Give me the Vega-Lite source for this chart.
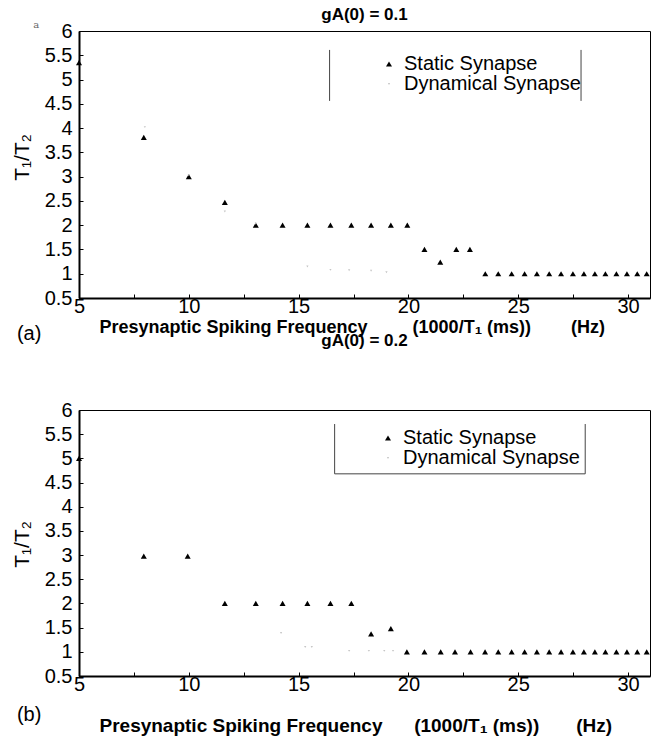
{
  "$schema": "https://vega.github.io/schema/vega-lite/v6.json",
  "padding": {"left": 10, "top": 5, "right": 8, "bottom": 4},
  "spacing": -14,
  "config": {
    "font": "Liberation Sans",
    "view": {"stroke": "black", "strokeWidth": 1},
    "axis": {
      "grid": false,
      "labelFont": "Liberation Sans",
      "labelFontSize": 20,
      "labelColor": "black",
      "labelFlush": false,
      "labelOverlap": false,
      "labelSeparation": 0,
      "titleFont": "Liberation Sans",
      "titleColor": "black",
      "domainColor": "black",
      "domainWidth": 2,
      "tickColor": "black",
      "tickSize": -4
    },
    "axisX": {"labelPadding": 2},
    "axisY": {"labelPadding": 11, "labelOverlap": false},
    "legend": {"labelLimit": 400},
    "title": {"font": "Liberation Sans", "fontSize": 17, "fontWeight": "bold", "color": "black", "anchor": "middle", "frame": "group"}
  },
  "datasets": {
    "a": [
      {"f": 5, "ratio": 5.35, "series": "Static Synapse"},
      {"f": 7.95, "ratio": 3.81, "series": "Static Synapse"},
      {"f": 10, "ratio": 3.0, "series": "Static Synapse"},
      {"f": 11.64, "ratio": 2.47, "series": "Static Synapse"},
      {"f": 13.05, "ratio": 2.0, "series": "Static Synapse"},
      {"f": 14.27, "ratio": 2.0, "series": "Static Synapse"},
      {"f": 15.4, "ratio": 2.0, "series": "Static Synapse"},
      {"f": 16.45, "ratio": 2.0, "series": "Static Synapse"},
      {"f": 17.4, "ratio": 2.0, "series": "Static Synapse"},
      {"f": 18.3, "ratio": 2.0, "series": "Static Synapse"},
      {"f": 19.2, "ratio": 2.0, "series": "Static Synapse"},
      {"f": 19.95, "ratio": 2.0, "series": "Static Synapse"},
      {"f": 20.73, "ratio": 1.5, "series": "Static Synapse"},
      {"f": 21.45, "ratio": 1.24, "series": "Static Synapse"},
      {"f": 22.18, "ratio": 1.5, "series": "Static Synapse"},
      {"f": 22.8, "ratio": 1.5, "series": "Static Synapse"},
      {"f": 23.5, "ratio": 1.0, "series": "Static Synapse"},
      {"f": 24.09, "ratio": 1.0, "series": "Static Synapse"},
      {"f": 24.7, "ratio": 1.0, "series": "Static Synapse"},
      {"f": 25.29, "ratio": 1.0, "series": "Static Synapse"},
      {"f": 25.85, "ratio": 1.0, "series": "Static Synapse"},
      {"f": 26.41, "ratio": 1.0, "series": "Static Synapse"},
      {"f": 26.95, "ratio": 1.0, "series": "Static Synapse"},
      {"f": 27.49, "ratio": 1.0, "series": "Static Synapse"},
      {"f": 27.99, "ratio": 1.0, "series": "Static Synapse"},
      {"f": 28.49, "ratio": 1.0, "series": "Static Synapse"},
      {"f": 28.97, "ratio": 1.0, "series": "Static Synapse"},
      {"f": 29.47, "ratio": 1.0, "series": "Static Synapse"},
      {"f": 29.95, "ratio": 1.0, "series": "Static Synapse"},
      {"f": 30.42, "ratio": 1.0, "series": "Static Synapse"},
      {"f": 30.85, "ratio": 1.0, "series": "Static Synapse"},
      {"f": 8.0, "ratio": 4.02, "series": "Dynamical Synapse"},
      {"f": 10.0, "ratio": 3.03, "series": "Dynamical Synapse"},
      {"f": 11.64, "ratio": 2.28, "series": "Dynamical Synapse"},
      {"f": 13.05, "ratio": 2.03, "series": "Dynamical Synapse"},
      {"f": 15.4, "ratio": 1.15, "series": "Dynamical Synapse"},
      {"f": 16.45, "ratio": 1.08, "series": "Dynamical Synapse"},
      {"f": 17.3, "ratio": 1.07, "series": "Dynamical Synapse"},
      {"f": 18.3, "ratio": 1.06, "series": "Dynamical Synapse"},
      {"f": 19.0, "ratio": 1.03, "series": "Dynamical Synapse"}
    ],
    "b": [
      {"f": 5, "ratio": 5.0, "series": "Static Synapse"},
      {"f": 7.95, "ratio": 2.98, "series": "Static Synapse"},
      {"f": 9.95, "ratio": 2.98, "series": "Static Synapse"},
      {"f": 11.64, "ratio": 2.0, "series": "Static Synapse"},
      {"f": 13.05, "ratio": 2.0, "series": "Static Synapse"},
      {"f": 14.27, "ratio": 2.0, "series": "Static Synapse"},
      {"f": 15.4, "ratio": 2.0, "series": "Static Synapse"},
      {"f": 16.45, "ratio": 2.0, "series": "Static Synapse"},
      {"f": 17.4, "ratio": 2.0, "series": "Static Synapse"},
      {"f": 18.3, "ratio": 1.37, "series": "Static Synapse"},
      {"f": 19.2, "ratio": 1.48, "series": "Static Synapse"},
      {"f": 19.93, "ratio": 1.0, "series": "Static Synapse"},
      {"f": 20.73, "ratio": 1.0, "series": "Static Synapse"},
      {"f": 21.47, "ratio": 1.0, "series": "Static Synapse"},
      {"f": 22.12, "ratio": 1.0, "series": "Static Synapse"},
      {"f": 22.83, "ratio": 1.0, "series": "Static Synapse"},
      {"f": 23.49, "ratio": 1.0, "series": "Static Synapse"},
      {"f": 24.09, "ratio": 1.0, "series": "Static Synapse"},
      {"f": 24.7, "ratio": 1.0, "series": "Static Synapse"},
      {"f": 25.29, "ratio": 1.0, "series": "Static Synapse"},
      {"f": 25.85, "ratio": 1.0, "series": "Static Synapse"},
      {"f": 26.41, "ratio": 1.0, "series": "Static Synapse"},
      {"f": 26.95, "ratio": 1.0, "series": "Static Synapse"},
      {"f": 27.49, "ratio": 1.0, "series": "Static Synapse"},
      {"f": 27.99, "ratio": 1.0, "series": "Static Synapse"},
      {"f": 28.49, "ratio": 1.0, "series": "Static Synapse"},
      {"f": 28.97, "ratio": 1.0, "series": "Static Synapse"},
      {"f": 29.47, "ratio": 1.0, "series": "Static Synapse"},
      {"f": 29.95, "ratio": 1.0, "series": "Static Synapse"},
      {"f": 30.42, "ratio": 1.0, "series": "Static Synapse"},
      {"f": 30.85, "ratio": 1.0, "series": "Static Synapse"},
      {"f": 14.2, "ratio": 1.39, "series": "Dynamical Synapse"},
      {"f": 15.3, "ratio": 1.1, "series": "Dynamical Synapse"},
      {"f": 15.6, "ratio": 1.1, "series": "Dynamical Synapse"},
      {"f": 17.3, "ratio": 1.02, "series": "Dynamical Synapse"},
      {"f": 18.2, "ratio": 1.02, "series": "Dynamical Synapse"},
      {"f": 18.9, "ratio": 1.02, "series": "Dynamical Synapse"},
      {"f": 19.3, "ratio": 1.02, "series": "Dynamical Synapse"}
    ],
    "boxA": [
      {"f": 16.41, "ratio": 5.61, "f2": 16.41, "ratio2": 4.56},
      {"f": 27.86, "ratio": 5.61, "f2": 27.86, "ratio2": 4.56}
    ],
    "boxB": [
      {"f": 16.64, "ratio": 5.71, "f2": 16.64, "ratio2": 4.68},
      {"f": 28.05, "ratio": 5.71, "f2": 28.05, "ratio2": 4.68},
      {"f": 16.64, "ratio": 4.68, "f2": 28.05, "ratio2": 4.68}
    ],
    "tagA": [{"f": 2.73, "ratio": -0.25, "t": "(a)"}],
    "tagB": [{"f": 2.73, "ratio": -0.3, "t": "(b)"}],
    "mini": [{"f": 3.05, "ratio": 6.12, "t": "a"}]
  },
  "vconcat": [
    {
      "width": 571,
      "height": 267,
      "title": {"text": "gA(0) = 0.1", "offset": -4},
      "layer": [
        {
          "data": {"name": "a"},
          "mark": {"type": "point", "filled": true, "opacity": 1},
          "encoding": {
            "x": {"field": "f", "type": "quantitative", "scale": {"domain": [5, 31], "nice": false},
              "axis": {"values": [5, 7.5, 10, 12.5, 15, 17.5, 20, 22.5, 25, 27.5, 30], "labelOverlap": false,
                "labelExpr": "datum.value % 5 == 0 ? datum.label : ''",
                "title": "Presynaptic Spiking Frequency\u00a0\u00a0\u00a0\u00a0\u00a0\u00a0\u00a0\u00a0\u00a0(1000/T\u2081 (ms))\u00a0\u00a0\u00a0\u00a0\u00a0\u00a0\u00a0\u00a0(Hz)",
                "titleFontSize": 18, "titleFontWeight": "bold", "titleAnchor": "start", "titleAlign": "left",
                "titleX": 20, "titleY": 29, "titleBaseline": "middle"}},
            "y": {"field": "ratio", "type": "quantitative", "scale": {"domain": [0.5, 6], "nice": false},
              "axis": {"tickCount": 12, "labelOverlap": false, "labelSeparation": 0,
                "labelExpr": "format(datum.value, '~g')",
                "title": "T\u2081/T\u2082", "titleFontSize": 21, "titleFontWeight": "normal",
                "titleX": -47, "titleY": 126}},
            "color": {"field": "series", "type": "nominal",
              "scale": {"domain": ["Static Synapse", "Dynamical Synapse"], "range": ["black", "#c4c4c4"]},
              "legend": {"orient": "none", "legendX": 300, "legendY": 23, "title": null, "labelFontSize": 20, "labelColor": "black", "labelOffset": 5, "rowPadding": 0, "padding": 0}},
            "shape": {"field": "series", "type": "nominal",
              "scale": {"domain": ["Static Synapse", "Dynamical Synapse"], "range": ["triangle-up", "triangle-down"]},
              "legend": {"orient": "none", "legendX": 300, "legendY": 23, "title": null, "labelFontSize": 20, "labelColor": "black", "labelOffset": 5, "rowPadding": 0, "padding": 0}},
            "size": {"field": "series", "type": "nominal",
              "scale": {"domain": ["Static Synapse", "Dynamical Synapse"], "range": [36, 5]},
              "legend": {"orient": "none", "legendX": 300, "legendY": 23, "title": null, "labelFontSize": 20, "labelColor": "black", "labelOffset": 5, "rowPadding": 0, "padding": 0}}
          }
        },
        {
          "data": {"name": "boxA"},
          "mark": {"type": "rule", "color": "#444", "strokeWidth": 1},
          "encoding": {
            "x": {"field": "f", "type": "quantitative", "scale": {"domain": [5, 31], "nice": false}},
            "x2": {"field": "f2"},
            "y": {"field": "ratio", "type": "quantitative", "scale": {"domain": [0.5, 6], "nice": false}},
            "y2": {"field": "ratio2"}
          }
        },
        {
          "data": {"name": "tagA"},
          "mark": {"type": "text", "fontSize": 20, "color": "black", "font": "Liberation Sans"},
          "encoding": {
            "x": {"field": "f", "type": "quantitative", "scale": {"domain": [5, 31], "nice": false}},
            "y": {"field": "ratio", "type": "quantitative", "scale": {"domain": [0.5, 6], "nice": false}},
            "text": {"field": "t"}
          }
        },
        {
          "data": {"name": "mini"},
          "mark": {"type": "text", "fontSize": 10, "color": "#666", "font": "DejaVu Serif"},
          "encoding": {
            "x": {"field": "f", "type": "quantitative", "scale": {"domain": [5, 31], "nice": false}},
            "y": {"field": "ratio", "type": "quantitative", "scale": {"domain": [0.5, 6], "nice": false}},
            "text": {"field": "t"}
          }
        }
      ]
    },
    {
      "width": 571,
      "height": 266,
      "title": {"text": "gA(0) = 0.2", "offset": 50},
      "layer": [
        {
          "data": {"name": "b"},
          "mark": {"type": "point", "filled": true, "opacity": 1},
          "encoding": {
            "x": {"field": "f", "type": "quantitative", "scale": {"domain": [5, 31], "nice": false},
              "axis": {"values": [5, 7.5, 10, 12.5, 15, 17.5, 20, 22.5, 25, 27.5, 30], "labelOverlap": false,
                "labelExpr": "datum.value % 5 == 0 ? datum.label : ''",
                "title": "Presynaptic Spiking Frequency\u00a0\u00a0\u00a0\u00a0\u00a0\u00a0(1000/T\u2081 (ms))\u00a0\u00a0\u00a0\u00a0\u00a0\u00a0\u00a0(Hz)",
                "titleFontSize": 19, "titleFontWeight": "bold", "titleAnchor": "start", "titleAlign": "left",
                "titleX": 20, "titleY": 49, "titleBaseline": "middle"}},
            "y": {"field": "ratio", "type": "quantitative", "scale": {"domain": [0.5, 6], "nice": false},
              "axis": {"tickCount": 12, "labelOverlap": false, "labelSeparation": 0,
                "labelExpr": "format(datum.value, '~g')",
                "title": "T\u2081/T\u2082", "titleFontSize": 21, "titleFontWeight": "normal",
                "titleX": -47, "titleY": 134}},
            "color": {"field": "series", "type": "nominal",
              "scale": {"domain": ["Static Synapse", "Dynamical Synapse"], "range": ["black", "#c4c4c4"]},
              "legend": {"orient": "none", "legendX": 299, "legendY": 18, "title": null, "labelFontSize": 20, "labelColor": "black", "labelOffset": 5, "rowPadding": 0, "padding": 0}},
            "shape": {"field": "series", "type": "nominal",
              "scale": {"domain": ["Static Synapse", "Dynamical Synapse"], "range": ["triangle-up", "triangle-down"]},
              "legend": {"orient": "none", "legendX": 299, "legendY": 18, "title": null, "labelFontSize": 20, "labelColor": "black", "labelOffset": 5, "rowPadding": 0, "padding": 0}},
            "size": {"field": "series", "type": "nominal",
              "scale": {"domain": ["Static Synapse", "Dynamical Synapse"], "range": [36, 5]},
              "legend": {"orient": "none", "legendX": 299, "legendY": 18, "title": null, "labelFontSize": 20, "labelColor": "black", "labelOffset": 5, "rowPadding": 0, "padding": 0}}
          }
        },
        {
          "data": {"name": "boxB"},
          "mark": {"type": "rule", "color": "#444", "strokeWidth": 1},
          "encoding": {
            "x": {"field": "f", "type": "quantitative", "scale": {"domain": [5, 31], "nice": false}},
            "x2": {"field": "f2"},
            "y": {"field": "ratio", "type": "quantitative", "scale": {"domain": [0.5, 6], "nice": false}},
            "y2": {"field": "ratio2"}
          }
        },
        {
          "data": {"name": "tagB"},
          "mark": {"type": "text", "fontSize": 20, "color": "black", "font": "Liberation Sans"},
          "encoding": {
            "x": {"field": "f", "type": "quantitative", "scale": {"domain": [5, 31], "nice": false}},
            "y": {"field": "ratio", "type": "quantitative", "scale": {"domain": [0.5, 6], "nice": false}},
            "text": {"field": "t"}
          }
        }
      ]
    }
  ],
  "resolve": {
    "scale": {"color": "independent", "shape": "independent", "size": "independent"},
    "legend": {"color": "independent", "shape": "independent", "size": "independent"}
  }
}
